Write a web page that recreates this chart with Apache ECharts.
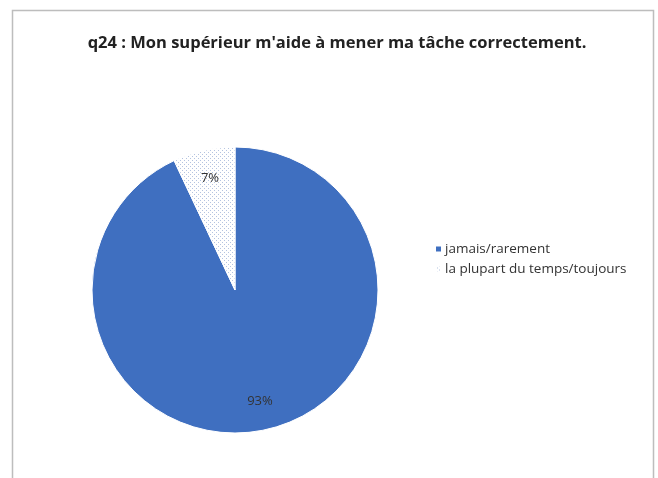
<!DOCTYPE html>
<html><head><meta charset="utf-8">
<script src="https://cdn.jsdelivr.net/npm/echarts@6/dist/echarts.min.js"></script>
<style>html,body{margin:0;padding:0;background:#fff}#c{width:658px;height:478px}</style>
</head><body><div id="c"></div>
<script>
var titleText = "q24 : Mon supérieur m'aide à mener ma tâche correctement.";
var categories = ["jamais/rarement", "la plupart du temps/toujours"];
var values = [93, 7];

var pat = document.createElement('canvas');
pat.width = 4; pat.height = 4;
var pc = pat.getContext('2d');
pc.fillStyle = '#ffffff'; pc.fillRect(0,0,4,4);
pc.fillStyle = '#b4c3e0'; pc.fillRect(0,0,1,1); pc.fillRect(2,2,1,1);

var colors = ['#3f6fc0', {image: pat, repeat: 'repeat'}];
var data = categories.map(function(n,i){ return {name:n, value:values[i], itemStyle:{color:colors[i]}}; });

var chart = echarts.init(document.getElementById('c'));
chart.setOption({
  animation:false,
  title:{text:titleText, left:332, top:30, textAlign:'center',
    textStyle:{fontFamily:'Open Sans', fontSize:16.5, fontWeight:'bold', color:'#222'}},
  graphic:[{type:'rect', shape:{x:12.5,y:10.5,width:641,height:480}, style:{fill:'none', stroke:'#bdbdbd', lineWidth:1.5}}],
  legend:{orient:'vertical', left:429, top:237, itemWidth:7, itemHeight:7, itemGap:6,
    data:categories, icon:'rect',
    textStyle:{fontFamily:'Open Sans', fontSize:13.5, color:'#333', padding:[0,0,0,-2]}},
  series:[
    {type:'pie', center:[235,290], radius:[0,143], startAngle:90, clockwise:true,
     data:data, label:{show:false}, labelLine:{show:false},
     itemStyle:{borderColor:'#fff', borderWidth:1}, emphasis:{disabled:true}},
    {type:'pie', center:[235,290], radius:[80,143], startAngle:90, clockwise:true, silent:true,
     data:categories.map(function(n,i){return {name:n, value:values[i], itemStyle:{color:'rgba(0,0,0,0)'}};}),
     legendHoverLink:false,
     label:{show:true, position:'inside', formatter:'{d}%', color:'#333', fontFamily:'Open Sans', fontSize:13},
     labelLine:{show:false}, emphasis:{disabled:true}}
  ]
});
</script></body></html>
